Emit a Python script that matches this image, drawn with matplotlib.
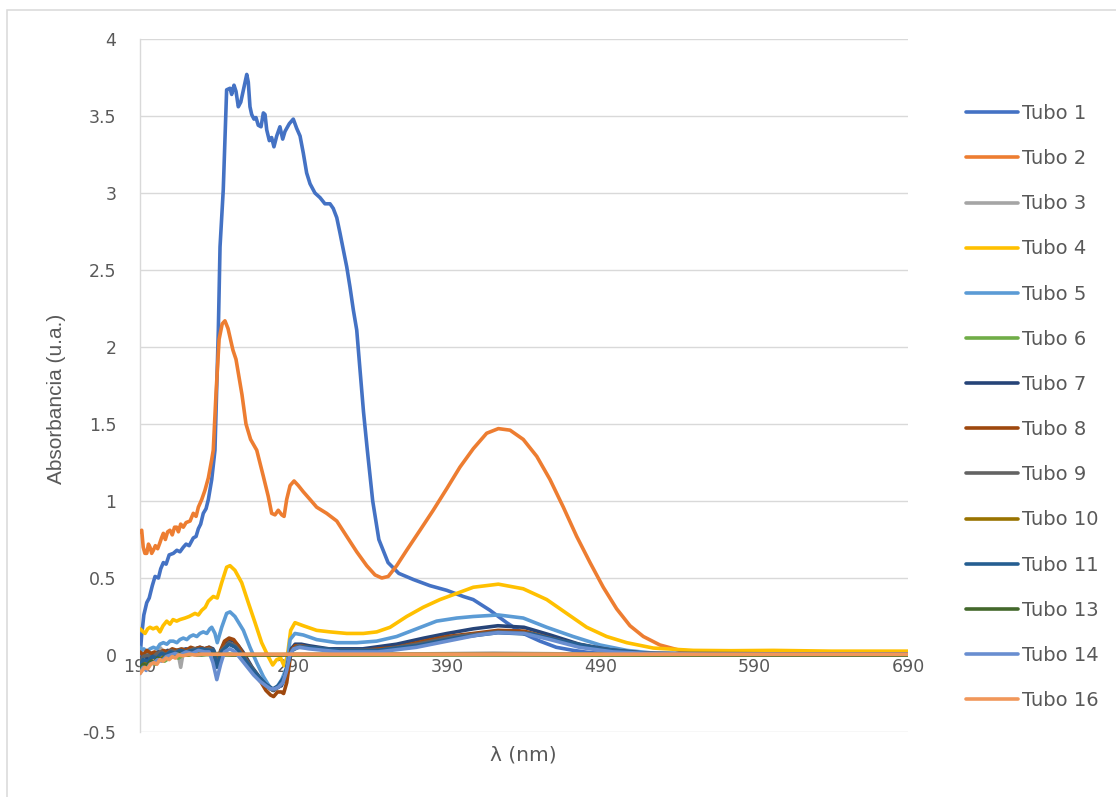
import matplotlib
matplotlib.use("Agg")
import matplotlib.pyplot as plt
from matplotlib.patches import Rectangle

# ---- spectra: wavelength (nm) and absorbance (u.a.) per sample tube ----
wl_t1 = [190, 191, 192.5, 194.4, 196, 198, 199.8, 202, 203.5, 205.2, 207, 209, 211.7, 214, 216, 218.2,
         220, 222, 224.7, 226.5, 228, 229.5, 231.2, 233, 234.5, 236.7, 238.8, 241.0, 242.1, 244.2,
         246.4, 248.6, 249.7, 251.2, 252.5, 254.0, 255.6, 259.5, 260.5, 261.6, 262.7, 264.2, 265.5,
         267.0, 268.8, 270.3, 271.4, 272.5, 274.2, 275.7, 277.2, 279.0, 281.1, 282.9, 284.4, 287.2,
         289.8, 292.0, 294.2, 296.3, 298.5, 300.7, 303.9, 307.2, 310.4, 313.7, 315.8, 318.1, 320.2,
         322.4, 324.6, 326.7, 328.9, 331.1, 333.0, 335.5, 338.0, 341.5, 345.5, 351.5, 358.5, 368.0,
         378.8, 389.7, 400.5, 406.9, 417.9, 428.7, 439.5, 450.4, 461, 472.1, 483, 493.8, 510, 530,
         560, 600, 650, 700]
abs_t1 = [-0.02, 0.12, 0.26, 0.34, 0.37, 0.45, 0.51, 0.50, 0.56, 0.60, 0.59, 0.65, 0.66, 0.68, 0.67, 0.70,
          0.72, 0.71, 0.76, 0.77, 0.82, 0.85, 0.92, 0.95, 1.01, 1.14, 1.33, 2.11, 2.65, 3.02,
          3.67, 3.68, 3.64, 3.70, 3.66, 3.56, 3.59, 3.77, 3.72, 3.56, 3.51, 3.48, 3.49,
          3.44, 3.43, 3.52, 3.51, 3.41, 3.34, 3.36, 3.30, 3.37, 3.43, 3.35, 3.40, 3.45,
          3.48, 3.42, 3.37, 3.26, 3.13, 3.06, 3.00, 2.97, 2.93, 2.93, 2.90, 2.84, 2.74,
          2.63, 2.52, 2.39, 2.24, 2.11, 1.88, 1.58, 1.33, 1.00, 0.75, 0.60, 0.53, 0.49,
          0.45, 0.42, 0.38, 0.36, 0.29, 0.21, 0.14, 0.09, 0.05, 0.03, 0.015, 0.01, 0.005, 0.003,
          0.002, 0.002, 0.002, 0.002]

wl_t2 = [190, 191.1, 192.1, 193.2, 194.4, 195.5, 196.5, 197.6, 198.7, 200, 201.5, 203.0, 204, 205.2,
         206.5, 208, 209.5, 211, 212.5, 213.9, 215, 216.5, 218.2, 220, 222.6, 224.7, 226.5, 228.0,
         230.2, 232.3, 234.5, 236.7, 237.7, 239.5, 241.5, 243.5, 245.3, 247.3, 250.5, 252.5, 256.4,
         259, 262, 266.0, 270.3, 273.5, 275.7, 277.9, 280.0, 282.3, 283.8, 285.5, 287.7, 290.3,
         293.1, 296.3, 300.7, 305.0, 311.5, 318.1, 324.6, 331.1, 337.6, 343.0, 347.4, 351.6, 357.1,
         363.6, 372.3, 380.9, 389.7, 398.3, 407.0, 415.7, 423.3, 430.9, 439.5, 448.3, 456.9, 465.6,
         474.3, 483.0, 491.6, 500.3, 509.0, 517.7, 528.5, 541.5, 558.9, 580, 620, 660, 700]
abs_t2 = [0.80, 0.81, 0.70, 0.66, 0.66, 0.72, 0.70, 0.66, 0.68, 0.71, 0.69, 0.73, 0.76, 0.79,
          0.75, 0.80, 0.81, 0.78, 0.83, 0.83, 0.80, 0.85, 0.83, 0.86, 0.87, 0.92, 0.90, 0.96,
          1.01, 1.07, 1.15, 1.27, 1.33, 1.70, 2.05, 2.15, 2.17, 2.12, 1.98, 1.92, 1.69,
          1.50, 1.40, 1.33, 1.16, 1.03, 0.92, 0.91, 0.94, 0.91, 0.90, 1.01, 1.10, 1.13,
          1.10, 1.06, 1.01, 0.96, 0.92, 0.87, 0.77, 0.67, 0.58, 0.52, 0.50, 0.51, 0.58,
          0.68, 0.81, 0.94, 1.08, 1.22, 1.34, 1.44, 1.47, 1.46, 1.40, 1.29, 1.14, 0.96,
          0.77, 0.60, 0.44, 0.30, 0.19, 0.12, 0.065, 0.03, 0.02, 0.015, 0.012, 0.01, 0.01]

wl_t3 = [190, 192, 194, 196, 198, 200, 202, 203.5, 205, 207, 209, 211, 213, 215, 216.5, 218, 220,
         223, 226, 229, 232, 236, 240, 245, 250, 260, 270, 280, 290, 300, 340, 380, 400, 420, 440,
         460, 480, 520, 690]
abs_t3 = [-0.08, -0.05, -0.06, -0.03, -0.02, 0.0, 0.03, 0.045, 0.0, -0.01, 0.01, 0.0, 0.02, 0.0,
          -0.08, 0.01, 0.02, 0.01, 0.03, 0.02, 0.03, 0.02, 0.01, 0.01, 0.0, 0.0, 0.0, 0.0, 0.005,
          0.005, 0.005, 0.008, 0.01, 0.012, 0.01, 0.008, 0.005, 0.003, 0.002]

wl_t4 = [190, 191.1, 193.3, 195, 196.5, 198.5, 200.9, 203.0, 205, 207.4, 209.5, 211.5, 213.9, 216,
         219.3, 222, 225.8, 228, 230.2, 232.5, 234.5, 237.7, 240.3, 243.2, 246.4, 248.6, 251.8,
         256.2, 260.5, 264.9, 269.2, 273.5, 276.4, 279.0, 281.6, 283.8, 285.9, 288.1, 290.9, 296.3,
         305.0, 313.7, 324.6, 335.4, 344.1, 352.8, 363.6, 374.4, 385.3, 396.2, 407.0, 423.3, 439.5,
         454.8, 467.8, 480.8, 493.8, 506.9, 524.2, 550.2, 575, 602.3, 640, 690]
abs_t4 = [0.17, 0.16, 0.14, 0.17, 0.18, 0.17, 0.18, 0.15, 0.19, 0.22, 0.20, 0.23, 0.22, 0.23,
          0.24, 0.25, 0.27, 0.26, 0.29, 0.31, 0.35, 0.38, 0.37, 0.47, 0.57, 0.58, 0.55,
          0.47, 0.34, 0.21, 0.08, -0.01, -0.065, -0.03, -0.02, -0.07, -0.01, 0.16, 0.21, 0.19,
          0.16, 0.15, 0.14, 0.14, 0.15, 0.18, 0.25, 0.31, 0.36, 0.40, 0.44, 0.46, 0.43,
          0.36, 0.27, 0.18, 0.12, 0.08, 0.045, 0.03, 0.028, 0.03, 0.025, 0.025]

wl_t5 = [190, 191.1, 192.5, 194.4, 196.5, 198.7, 201, 203, 205.2, 207.5, 209.5, 211.7, 214, 216,
         218.2, 220.5, 222.5, 224.7, 227, 229, 231.2, 233.5, 235.5, 236.7, 238.8, 240.3, 243.2,
         246.4, 248.6, 251.8, 257.3, 261.6, 266.0, 270.3, 274.6, 276.8, 279.0, 282.3, 285.5, 287.7,
         290.9, 296.3, 305.0, 318.1, 331.1, 344.1, 357.1, 370.1, 383.1, 396.2, 407.0, 423.3, 439.5,
         454.8, 472.0, 489.5, 506.9, 526.4, 560, 690]
abs_t5 = [0.05, 0.03, 0.04, 0.02, 0.04, 0.05, 0.04, 0.07, 0.08, 0.07, 0.09, 0.09, 0.08, 0.10,
          0.11, 0.10, 0.12, 0.13, 0.12, 0.14, 0.15, 0.14, 0.17, 0.18, 0.14, 0.08, 0.18,
          0.27, 0.28, 0.25, 0.16, 0.05, -0.05, -0.14, -0.21, -0.23, -0.21, -0.16, -0.08, 0.10,
          0.14, 0.13, 0.10, 0.08, 0.08, 0.09, 0.12, 0.17, 0.22, 0.24, 0.25, 0.26, 0.24,
          0.18, 0.12, 0.065, 0.03, 0.01, 0.005, 0.005]

wl_t6 = [190, 192, 194, 196, 198, 200, 203, 206, 209, 212, 215, 218, 222, 226, 230, 236, 245, 260,
         300, 400, 500, 690]
abs_t6 = [-0.10, -0.08, -0.09, -0.06, -0.05, -0.06, -0.03, -0.04, -0.02, -0.01, -0.02, 0.0, 0.0,
          0.01, 0.0, 0.005, 0.003, 0.002, 0.002, 0.003, 0.002, 0.002]

wl_t7 = [190, 192, 194.5, 197, 199.5, 202, 205, 208, 211, 214, 217, 220, 223, 226, 229, 232, 235,
         237.5, 240, 242.5, 245, 248, 251, 254, 257, 260, 263, 266, 269, 272, 275, 277, 279.5, 282,
         284.5, 286.5, 288.5, 291, 295, 300, 313, 335, 357, 375, 390, 407, 423, 440, 457, 476, 498,
         520, 560, 690]
abs_t7 = [-0.05, 0.0, -0.02, 0.01, 0.0, 0.02, 0.01, 0.03, 0.02, 0.03, 0.03, 0.04, 0.03, 0.04,
          0.05, 0.04, 0.05, 0.04, -0.06, 0.02, 0.08, 0.10, 0.09, 0.06, 0.02, -0.03, -0.08, -0.12,
          -0.16, -0.20, -0.22, -0.23, -0.21, -0.20, -0.15, -0.05, 0.04, 0.07, 0.07, 0.06, 0.04,
          0.04, 0.07, 0.11, 0.14, 0.17, 0.19, 0.18, 0.13, 0.07, 0.03, 0.01, 0.005, 0.005]

wl_t8 = [190, 192, 194.5, 197, 199.5, 202, 205, 208, 211, 214, 217, 220, 223, 226, 229, 232, 235,
         237.5, 240, 242.5, 245, 248, 251, 254, 257, 260, 263, 266, 269, 272, 275, 277, 279.5, 282,
         283.5, 285.5, 288.5, 291, 295, 300, 313, 335, 357, 375, 390, 407, 423, 440, 457, 476, 498,
         520, 560, 690]
abs_t8 = [0.02, 0.0, 0.03, 0.01, 0.02, 0.0, 0.03, 0.02, 0.04, 0.03, 0.04, 0.03, 0.05, 0.04,
          0.05, 0.04, 0.05, 0.03, -0.07, 0.03, 0.09, 0.11, 0.10, 0.06, 0.01, -0.04, -0.09, -0.14,
          -0.18, -0.23, -0.26, -0.27, -0.24, -0.24, -0.25, -0.18, 0.03, 0.06, 0.06, 0.05, 0.03,
          0.03, 0.05, 0.09, 0.12, 0.14, 0.16, 0.155, 0.11, 0.06, 0.025, 0.01, 0.005, 0.005]

wl_t9 = [190, 192, 195, 198, 201, 204, 207, 210, 213, 216, 220, 225, 230, 235, 238, 240, 243, 248,
         252, 257, 262, 267, 272, 276.5, 280, 284, 286.5, 289, 293, 300, 320, 345, 370, 395, 423,
         445, 465, 490, 520, 690]
abs_t9 = [-0.04, -0.01, 0.0, -0.02, 0.01, 0.02, 0.0, 0.03, 0.02, 0.03, 0.02, 0.04, 0.03, 0.04,
          0.03, -0.06, 0.03, 0.08, 0.06, 0.0, -0.07, -0.14, -0.20, -0.23, -0.21, -0.15, -0.05, 0.03,
          0.06, 0.05, 0.03, 0.03, 0.07, 0.12, 0.15, 0.14, 0.09, 0.04, 0.01, 0.005]

wl_t10 = [190, 192, 194, 196.5, 199, 201, 203.5, 206, 208.5, 211, 214, 217, 221, 226, 232, 240,
          260, 300, 400, 500, 690]
abs_t10 = [-0.06, -0.04, -0.07, -0.03, -0.05, -0.02, -0.03, 0.0, -0.01, 0.01, 0.0, 0.01, 0.0,
           0.01, 0.005, 0.003, 0.002, 0.002, 0.003, 0.002, 0.002]

wl_t11 = [190, 192, 195, 198, 201, 204, 207, 210, 213, 216, 220, 225, 230, 235, 238, 240, 243,
          248, 252, 257, 262, 267, 272, 276.5, 280, 284, 286.5, 289, 293, 300, 320, 345, 370, 395,
          423, 445, 465, 490, 520, 690]
abs_t11 = [-0.07, -0.03, -0.04, -0.01, -0.02, 0.01, 0.0, 0.02, 0.01, 0.03, 0.02, 0.03, 0.04, 0.03,
           0.03, -0.08, 0.02, 0.07, 0.05, -0.01, -0.08, -0.14, -0.19, -0.22, -0.20, -0.14, -0.05,
           0.03, 0.05, 0.05, 0.03, 0.03, 0.06, 0.11, 0.145, 0.135, 0.09, 0.04, 0.01, 0.005]

wl_t13 = [190, 192, 194.5, 197, 199, 201.5, 204, 206.5, 209, 212, 215, 218, 222, 227, 233, 240,
          260, 300, 400, 500, 690]
abs_t13 = [-0.09, -0.06, -0.07, -0.04, -0.05, -0.02, -0.03, -0.01, -0.02, 0.0, 0.01, 0.0, 0.01,
           0.0, 0.005, 0.003, 0.002, 0.002, 0.003, 0.002, 0.002]

wl_t14 = [190, 192, 194, 196.5, 199, 201.5, 204, 207, 210, 213, 216, 220, 224, 228, 232, 235,
          237.5, 240, 242.5, 245, 248.5, 252, 256, 260, 264, 268, 272, 275, 277.5, 280, 283, 285.5,
          287.5, 290, 294, 300, 320, 345, 370, 395, 410, 423, 440, 457, 476, 498, 520, 560, 690]
abs_t14 = [-0.12, -0.08, -0.10, -0.06, -0.05, -0.03, -0.04, -0.01, 0.0, 0.01, 0.0, 0.02, 0.01,
           0.03, 0.02, 0.02, -0.05, -0.16, -0.06, 0.02, 0.04, 0.02, -0.03, -0.08, -0.13, -0.17,
           -0.20, -0.22, -0.22, -0.21, -0.18, -0.10, 0.0, 0.04, 0.05, 0.04, 0.02, 0.02, 0.05, 0.10,
           0.13, 0.145, 0.14, 0.10, 0.05, 0.02, 0.01, 0.005, 0.005]

wl_t16 = [190, 191.5, 193, 195, 197, 199, 201, 203, 205, 207, 209, 211, 213, 215, 218, 222, 226,
          230, 240, 300, 400, 500, 600, 690]
abs_t16 = [-0.12, -0.10, -0.08, -0.09, -0.06, -0.05, -0.06, -0.03, -0.04, -0.02, -0.03, -0.01,
           -0.02, 0.0, -0.005, 0.005, 0.0, 0.005, 0.005, 0.005, 0.005, 0.005, 0.005, 0.005]

series_labels = ["Tubo 1", "Tubo 2", "Tubo 3", "Tubo 4", "Tubo 5", "Tubo 6", "Tubo 7",
                 "Tubo 8", "Tubo 9", "Tubo 10", "Tubo 11", "Tubo 13", "Tubo 14", "Tubo 16"]
series_wl = [wl_t1, wl_t2, wl_t3, wl_t4, wl_t5, wl_t6, wl_t7, wl_t8, wl_t9, wl_t10, wl_t11,
             wl_t13, wl_t14, wl_t16]
series_abs = [abs_t1, abs_t2, abs_t3, abs_t4, abs_t5, abs_t6, abs_t7, abs_t8, abs_t9, abs_t10,
              abs_t11, abs_t13, abs_t14, abs_t16]
series_colors = ["#4472C4", "#ED7D31", "#A5A5A5", "#FFC000", "#5B9BD5", "#70AD47", "#264478",
                 "#9E480E", "#636363", "#997300", "#255E91", "#43682B", "#698ED0", "#F1975A"]

x_ticks = [190, 290, 390, 490, 590, 690]
y_ticks = [-0.5, 0, 0.5, 1, 1.5, 2, 2.5, 3, 3.5, 4]
y_tick_labels = ["-0.5", "0", "0.5", "1", "1.5", "2", "2.5", "3", "3.5", "4"]

# ---- figure ----
W, H = 1116, 797
fig = plt.figure(figsize=(W / 100, H / 100), dpi=100)
ax = fig.add_axes([140 / W, 1 - 732 / H, 768 / W, 693 / H])

text_color = "#595959"
grid_color = "#D9D9D9"
line_w = 2.6

for wl, ab, col, lab in zip(series_wl, series_abs, series_colors, series_labels):
    ax.plot(wl, ab, color=col, lw=line_w, label=lab, solid_joinstyle="round",
            solid_capstyle="round", zorder=3)

ax.set_xlim(190, 690)
ax.set_ylim(-0.5, 4)

ax.set_yticks(y_ticks)
ax.set_yticklabels(y_tick_labels)
ax.set_xticks(x_ticks)
ax.set_xticklabels([str(v) for v in x_ticks])

ax.yaxis.grid(True, color=grid_color, lw=1.0, zorder=0)
ax.xaxis.grid(False)
ax.set_axisbelow(True)

for s in ["top", "right"]:
    ax.spines[s].set_visible(False)
ax.spines["left"].set_color(grid_color)
ax.spines["left"].set_linewidth(1.0)
ax.spines["bottom"].set_position(("data", 0))
ax.spines["bottom"].set_visible(False)

ax.tick_params(axis="y", length=0, pad=17, labelsize=12.5, labelcolor=text_color)
ax.tick_params(axis="x", length=0, pad=2.5, labelsize=12.5, labelcolor=text_color)
for lbl in ax.get_xticklabels() + ax.get_yticklabels():
    lbl.set_fontfamily("DejaVu Sans")

fig.text(523 / W, 1 - 755 / H, "λ (nm)", ha="center", va="center", fontsize=14.5,
         color=text_color, family=["DejaVu Sans"])
fig.text(57 / W, 1 - 399 / H, "Absorbancia (u.a.)", ha="center", va="center", rotation=90,
         fontsize=15, color=text_color, family=["Liberation Sans", "DejaVu Sans"])

leg = fig.legend(loc="upper left", bbox_to_anchor=(966 / W, 1 - 104 / H),
                 bbox_transform=fig.transFigure, frameon=False,
                 handlelength=2.65, handletextpad=0.25, labelspacing=1.345, borderpad=0,
                 borderaxespad=0, prop={"family": "DejaVu Sans", "size": 14})
for t in leg.get_texts():
    t.set_color(text_color)
for h in leg.get_lines():
    h.set_linewidth(line_w)

# outer chart frame
fig.patches.append(Rectangle((7 / W, -0.05), 1.2, 1 - 10 / H + 0.05, transform=fig.transFigure,
                             fill=False, ec=grid_color, lw=1.1))

fig.savefig("out.png", dpi=100, facecolor="white")
